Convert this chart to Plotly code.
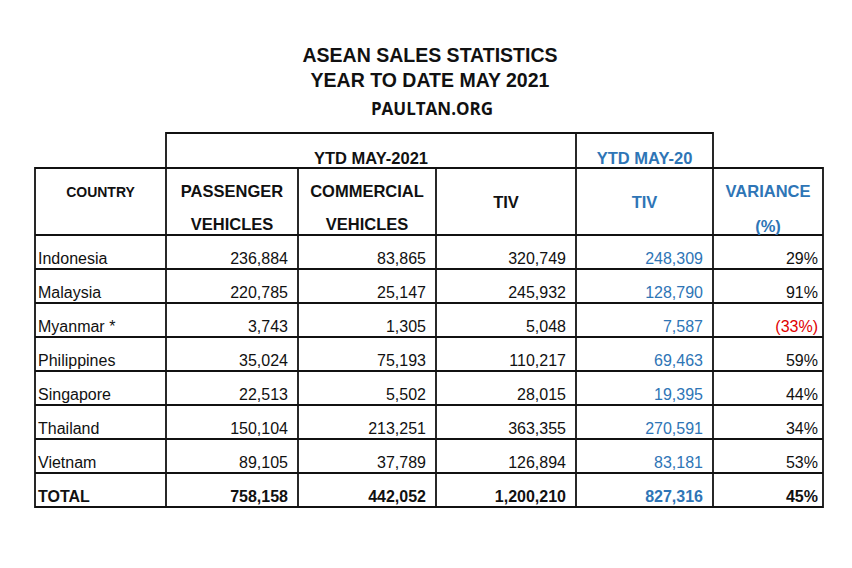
import plotly.graph_objects as go

# data
countries = ["Indonesia", "Malaysia", "Myanmar *", "Philippines", "Singapore", "Thailand", "Vietnam"]
passenger = [236884, 220785, 3743, 35024, 22513, 150104, 89105]
commercial = [83865, 25147, 1305, 75193, 5502, 213251, 37789]
tiv_2021 = [320749, 245932, 5048, 110217, 28015, 363355, 126894]
tiv_2020 = [248309, 128790, 7587, 69463, 19395, 270591, 83181]
variance = [29, 91, -33, 59, 44, 34, 53]
total_label = "TOTAL"
totals = [758158, 442052, 1200210, 827316]
total_variance = 45

title_lines = ["ASEAN SALES STATISTICS", "YEAR TO DATE MAY 2021"]
source_label = "PAULTAN.ORG"
group_2021 = "YTD MAY-2021"
group_2020 = "YTD MAY-20"

# layout (page pixels); the page body has an 8px margin, so the figure is
# 16px smaller and the axes start at 8
W, H = 852, 568
PAD = 8
col_edges = [35, 166, 298, 436, 576, 713, 823]
group_top = 133
header_top = 168
header_bottom = 235
row_h = 34
BLACK = "#111111"
BLUE = "#2E75B6"
RED = "#E00000"
FONT = "Liberation Sans, Arial, sans-serif"

n = len(countries)
row_tops = [header_bottom + i * row_h for i in range(n + 1)]
row_y = [t + 24.5 for t in row_tops]
table_bottom = header_bottom + (n + 1) * row_h


def fmt(v):
    return f"{v:,}"


def fmt_pct(v):
    return f"({abs(v)}%)" if v < 0 else f"{v}%"


fig = go.Figure()


def add_text(xs, ys, texts, pos, size, color, bold=False, family=FONT):
    if bold:
        texts = [f"<b>{t}</b>" for t in texts]
    fig.add_trace(go.Scatter(
        x=xs, y=ys, text=texts, mode="text", textposition=pos,
        textfont=dict(family=family, size=size, color=color),
        hoverinfo="skip", showlegend=False,
    ))


# titles
add_text([430, 430], [57, 82], title_lines, "middle center", 19.5, BLACK, bold=True)
add_text([432], [111], [source_label], "middle center", 17, BLACK, bold=True,
         family="Open Sans, sans-serif")

# group headers
add_text([(col_edges[1] + col_edges[4]) / 2], [160], [group_2021], "middle center", 16.5, BLACK, bold=True)
add_text([(col_edges[4] + col_edges[5]) / 2], [160], [group_2020], "middle center", 16.5, BLUE, bold=True)

# column headers
cx = [(col_edges[i] + col_edges[i + 1]) / 2 for i in range(6)]
add_text([cx[0]], [193], ["COUNTRY"], "middle center", 14, BLACK, bold=True)
add_text([cx[1], cx[1], cx[2], cx[2]], [193, 226, 193, 226],
         ["PASSENGER", "VEHICLES", "COMMERCIAL", "VEHICLES"], "middle center", 16.5, BLACK, bold=True)
add_text([cx[3]], [204], ["TIV"], "middle center", 16.5, BLACK, bold=True)
add_text([cx[4]], [204], ["TIV"], "middle center", 16.5, BLUE, bold=True)
add_text([cx[5], cx[5]], [193, 228], ["VARIANCE", "(%)"], "middle center", 16.5, BLUE, bold=True)

# body
body_y = row_y[:n]
add_text([col_edges[0] + 3] * n, body_y, countries, "middle right", 16, BLACK)
columns = [passenger, commercial, tiv_2021, tiv_2020]
colors = [BLACK, BLACK, BLACK, BLUE]
for i, (vals, c) in enumerate(zip(columns, colors)):
    add_text([col_edges[i + 2] - 10] * n, body_y, [fmt(v) for v in vals], "middle left", 16, c)
fig.add_trace(go.Scatter(
    x=[col_edges[6] - 5] * n, y=body_y, text=[fmt_pct(v) for v in variance],
    mode="text", textposition="middle left",
    textfont=dict(family=FONT, size=16, color=[RED if v < 0 else BLACK for v in variance]),
    hoverinfo="skip", showlegend=False,
))

# total row
ty = row_y[n]
add_text([col_edges[0] + 3], [ty], [total_label], "middle right", 16, BLACK, bold=True)
for i, (v, c) in enumerate(zip(totals, colors)):
    add_text([col_edges[i + 2] - 10], [ty], [fmt(v)], "middle left", 16, c, bold=True)
add_text([col_edges[6] - 5], [ty], [fmt_pct(total_variance)], "middle left", 16, BLACK, bold=True)

# grid lines
line = dict(color=BLACK, width=1.8)
shapes = []
# group header box
shapes.append(dict(type="rect", x0=col_edges[1], x1=col_edges[5], y0=group_top, y1=header_top, line=line))
shapes.append(dict(type="line", x0=col_edges[4], x1=col_edges[4], y0=group_top, y1=header_top, line=line))
# main table outline
shapes.append(dict(type="rect", x0=col_edges[0], x1=col_edges[6], y0=header_top, y1=table_bottom, line=line))
for xe in col_edges[1:-1]:
    shapes.append(dict(type="line", x0=xe, x1=xe, y0=header_top, y1=table_bottom, line=line))
for yt in [header_bottom] + row_tops[1:]:
    shapes.append(dict(type="line", x0=col_edges[0], x1=col_edges[6], y0=yt, y1=yt, line=line))
for s in shapes:
    s.update(xref="x", yref="y", layer="below")

fig.update_layout(
    width=W - 2 * PAD, height=H - 2 * PAD,
    margin=dict(l=0, r=0, t=0, b=0),
    paper_bgcolor="white", plot_bgcolor="white",
    shapes=shapes,
    xaxis=dict(range=[PAD, W - PAD], visible=False, fixedrange=True),
    yaxis=dict(range=[H - PAD, PAD], visible=False, fixedrange=True),
)

fig.write_html("out.html")
